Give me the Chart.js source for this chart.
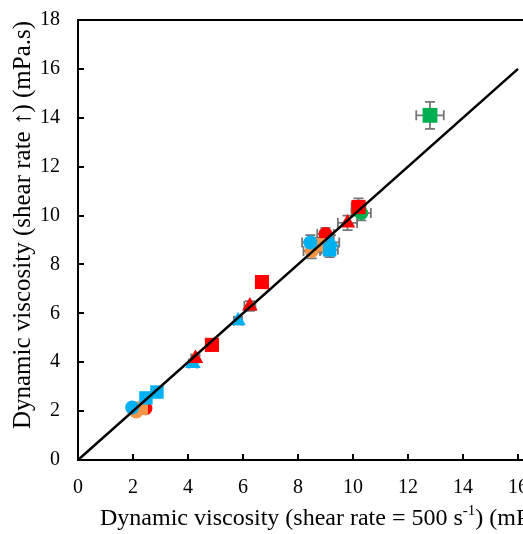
<!DOCTYPE html>
<html>
<head>
<meta charset="utf-8">
<script src="https://cdn.jsdelivr.net/npm/chart.js@4/dist/chart.umd.min.js"></script>
<style>
  html,body{margin:0;padding:0;background:#fff;overflow:hidden;}
  #wrap{width:600px;height:534px;}
</style>
</head>
<body>
<div id="wrap"><canvas id="chart" width="600" height="534"></canvas></div>
<script>
// Data (x = viscosity at 500 s-1, y = viscosity at rising shear rate)
const greenCircleX=[10.3],   greenCircleY=[10.1],   greenCircleEx=[0.35], greenCircleEy=[0.3];
const redCircleX=[2.45,9.0], redCircleY=[2.12,9.25], redCircleEx=[0.05,0.3], redCircleEy=[0.05,0.25];
const orangeCircleX=[2.12,8.5], orangeCircleY=[1.98,8.55], orangeCircleEx=[0.05,0.3], orangeCircleEy=[0.05,0.3];
const orangeSquareX=[2.3,8.75], orangeSquareY=[2.12,8.8], orangeSquareEx=[0.05,0.3], orangeSquareEy=[0.05,0.3];
const blueCircleX=[1.97,8.45], blueCircleY=[2.15,8.9], blueCircleEx=[0.05,0.3], blueCircleEy=[0.05,0.3];
const blueSquareX=[2.47,2.87,9.15], blueSquareY=[2.54,2.78,8.6], blueSquareEx=[0.05,0.05,0.3], blueSquareEy=[0.05,0.05,0.3];
const blueTriX=[4.18,5.82,9.2], blueTriY=[3.95,5.7,8.9], blueTriEx=[0.15,0.15,0.3], blueTriEy=[0.15,0.15,0.3];
const redTriX=[4.27,6.25,9.8], redTriY=[4.15,6.3,9.7], redTriEx=[0.15,0.2,0.35], redTriEy=[0.15,0.2,0.3];
const redSquareX=[4.87,6.69,10.2], redSquareY=[4.71,7.28,10.35], redSquareEx=[0.05,0.1,0.25], redSquareEy=[0.05,0.1,0.35];
const greenSquareX=[12.8], greenSquareY=[14.1], greenSquareEx=[0.5], greenSquareEy=[0.55];
const lineX=[0,16], lineY=[0,16];

const xTicks=[0,2,4,6,8,10,12,14,16,18];
const yTicks=[0,2,4,6,8,10,12,14,16,18];

const BLUE="#00B0F0", RED="#FF0000", ORANGE="#F79646", GREEN="#00B050";
const pts=(xs,ys)=>xs.map((x,i)=>({x,y:ys[i]}));

// listed bottom to top
const series=[
  {c:GREEN, s:"circle", r:7, x:greenCircleX, y:greenCircleY, ex:greenCircleEx, ey:greenCircleEy},
  {c:RED,   s:"circle", r:7, x:redCircleX,   y:redCircleY,   ex:redCircleEx,   ey:redCircleEy},
  {c:ORANGE,s:"circle", r:7, x:orangeCircleX,y:orangeCircleY,ex:orangeCircleEx,ey:orangeCircleEy},
  {c:ORANGE,s:"rect",   r:9.5, x:orangeSquareX,y:orangeSquareY,ex:orangeSquareEx,ey:orangeSquareEy},
  {c:BLUE,  s:"circle", r:7, x:blueCircleX,  y:blueCircleY,  ex:blueCircleEx,  ey:blueCircleEy},
  {c:BLUE,  s:"rect",   r:9.5, x:blueSquareX,  y:blueSquareY,  ex:blueSquareEx,  ey:blueSquareEy},
  {c:BLUE,  s:"triangle",r:9, x:blueTriX,    y:blueTriY,     ex:blueTriEx,     ey:blueTriEy},
  {c:RED,   s:"triangle",r:9, x:redTriX,     y:redTriY,      ex:redTriEx,      ey:redTriEy},
  {c:RED,   s:"rect",   r:10, x:redSquareX,  y:redSquareY,   ex:redSquareEx,   ey:redSquareEy},
  {c:GREEN, s:"rect",   r:10.5, x:greenSquareX,y:greenSquareY,ex:greenSquareEx,ey:greenSquareEy}
];

const datasets=series.map((d,i)=>({
  data:pts(d.x,d.y), errX:d.ex, errY:d.ey,
  pointStyle:d.s, pointRadius:d.r, pointHoverRadius:d.r,
  backgroundColor:d.c, borderColor:d.c, borderWidth:0,
  showLine:false, order:series.length-i+1
}));
datasets.push({
  data:pts(lineX,lineY), showLine:true, pointRadius:0,
  borderColor:"#000", borderWidth:2.5, order:0
});

const FONT="'Liberation Serif','Times New Roman',serif";

// error bars, drawn under the markers
const errorBars={
  id:"errorBars",
  beforeDatasetsDraw(chart){
    const {ctx,scales:{x,y}}=chart, cap=5;
    ctx.save();
    ctx.strokeStyle="#767676"; ctx.lineWidth=1.8;
    chart.data.datasets.forEach(ds=>{
      if(!ds.errX) return;
      ds.data.forEach((p,i)=>{
        const px=x.getPixelForValue(p.x), py=y.getPixelForValue(p.y);
        const x0=x.getPixelForValue(p.x-ds.errX[i]), x1=x.getPixelForValue(p.x+ds.errX[i]);
        const y0=y.getPixelForValue(p.y-ds.errY[i]), y1=y.getPixelForValue(p.y+ds.errY[i]);
        ctx.beginPath();
        ctx.moveTo(x0,py); ctx.lineTo(x1,py);
        ctx.moveTo(x0,py-cap); ctx.lineTo(x0,py+cap);
        ctx.moveTo(x1,py-cap); ctx.lineTo(x1,py+cap);
        ctx.moveTo(px,y0); ctx.lineTo(px,y1);
        ctx.moveTo(px-cap,y0); ctx.lineTo(px+cap,y0);
        ctx.moveTo(px-cap,y1); ctx.lineTo(px+cap,y1);
        ctx.stroke();
      });
    });
    ctx.restore();
  }
};

// top frame line, inward ticks, axis titles
const frame={
  id:"frame",
  afterDraw(chart){
    const {ctx,chartArea:a,scales:{x,y}}=chart;
    ctx.save();
    ctx.strokeStyle="#000"; ctx.lineWidth=2;
    ctx.beginPath(); ctx.moveTo(a.left-1,a.top); ctx.lineTo(a.right,a.top); ctx.stroke();
    ctx.beginPath();
    xTicks.forEach(v=>{const px=Math.round(x.getPixelForValue(v)); ctx.moveTo(px,a.bottom); ctx.lineTo(px,a.bottom-6);});
    yTicks.forEach(v=>{const py=Math.round(y.getPixelForValue(v)); ctx.moveTo(a.left,py); ctx.lineTo(a.left+6,py);});
    ctx.stroke();

    ctx.fillStyle="#000";
    ctx.textBaseline="alphabetic";
    // x title with superscript
    let tx=100; const ty=525;
    const parts=[["Dynamic viscosity (shear rate = 500 s",0],["-1",1],[") (mPa.s)",0]];
    parts.forEach(([t,sup])=>{
      ctx.font=(sup?"15px ":"24px ")+FONT;
      ctx.fillText(t,tx,sup?ty-10:ty);
      tx+=ctx.measureText(t).width;
    });
    // y title
    ctx.font="25px "+FONT;
    ctx.translate(30,225); ctx.rotate(-Math.PI/2);
    ctx.textAlign="center";
    ctx.fillText("Dynamic viscosity (shear rate \u2191) (mPa.s)",0,0);
    ctx.restore();
  }
};

new Chart(document.getElementById("chart"),{
  type:"scatter",
  data:{datasets},
  options:{
    responsive:false, animation:false,
    layout:{padding:{left:0,top:20,right:27,bottom:0}},
    plugins:{legend:{display:false},tooltip:{enabled:false}},
    scales:{
      x:{
        type:"linear", min:0, max:18,
        afterBuildTicks:s=>{s.ticks=xTicks.map(v=>({value:v}));},
        afterFit:s=>{s.height=74; s.paddingLeft=0; s.paddingRight=0;},
        grid:{display:true,drawOnChartArea:false,drawTicks:false},
        border:{display:true,color:"#000",width:2},
        ticks:{padding:16,color:"#000",font:{family:FONT,size:20}}
      },
      y:{
        type:"linear", min:0, max:18,
        afterBuildTicks:s=>{s.ticks=yTicks.map(v=>({value:v}));},
        afterFit:s=>{s.width=78; s.paddingTop=0; s.paddingBottom=0;},
        grid:{display:true,drawOnChartArea:false,drawTicks:false},
        border:{display:true,color:"#000",width:2},
        ticks:{padding:18,color:"#000",font:{family:FONT,size:20}}
      }
    }
  },
  plugins:[errorBars,frame]
});
</script>
</body>
</html>
